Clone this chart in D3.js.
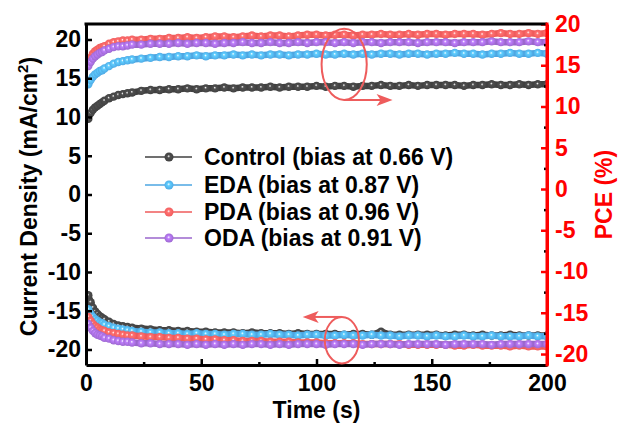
<!DOCTYPE html>
<html>
<head>
<meta charset="UTF-8">
<script src="https://d3js.org/d3.v7.min.js"></script>
<style>
  html, body { margin:0; padding:0; background:#fff; }
  svg text { font-family: "Liberation Sans", Arial, sans-serif; font-weight: bold; }
</style>
</head>
<body>
<div id="chart"></div>
<script>
// time axis (s)
const times = [1,2,3,4,5,6,7,8,10,12,14,16,18,20,
  24,28,32,36,40,44,48,52,56,60,64,68,72,76,80,84,88,92,96,100,104,108,112,116,120,
  124,128,132,136,140,144,148,152,156,160,164,168,172,176,180,184,188,192,196,200];

// PCE (%) - right axis
const pceControl = [8.5,9.2,9.6,9.9,10.1,10.3,10.5,10.7,11.0,11.2,11.4,11.5,11.6,11.7,
  11.9,12.0,12.0,12.1,12.1,12.2,12.1,12.2,12.2,12.3,12.2,12.3,12.3,12.3,12.4,12.3,12.4,12.4,12.4,12.5,
  12.4,12.5,12.5,12.4,12.5,12.5,12.6,12.5,12.5,12.6,12.5,12.6,12.6,12.6,12.6,12.5,12.6,12.6,12.7,12.6,
  12.6,12.7,12.6,12.7,12.7];
const pceEDA = [12.7,13.2,13.6,13.9,14.1,14.3,14.4,14.6,14.9,15.2,15.4,15.5,15.6,15.7,
  15.8,15.9,16.0,16.0,16.1,16.1,16.2,16.1,16.2,16.2,16.3,16.2,16.3,16.2,16.3,16.3,16.2,16.3,16.3,16.4,
  16.3,16.3,16.4,16.3,16.4,16.3,16.4,16.4,16.3,16.4,16.4,16.3,16.4,16.4,16.5,16.4,16.4,16.3,16.4,16.4,
  16.5,16.4,16.4,16.5,16.4];
const pcePDA = [15.3,15.9,16.4,16.7,16.9,17.1,17.2,17.3,17.6,17.8,17.9,18.0,18.0,18.1,
  18.1,18.2,18.2,18.3,18.3,18.4,18.3,18.4,18.5,18.5,18.4,18.5,18.6,18.5,18.6,18.6,18.5,18.6,18.7,18.7,
  18.6,18.7,18.7,18.6,18.7,18.7,18.8,18.7,18.7,18.8,18.7,18.8,18.8,18.7,18.8,18.8,18.8,18.7,18.8,18.9,
  18.8,18.8,18.9,18.8,18.9];
const pceODA = [14.9,15.4,15.8,16.1,16.3,16.5,16.6,16.8,17.0,17.2,17.3,17.3,17.4,17.5,
  17.5,17.6,17.6,17.6,17.7,17.6,17.7,17.7,17.6,17.7,17.7,17.8,17.7,17.7,17.8,17.7,17.7,17.8,17.7,17.8,
  17.8,17.7,17.8,17.7,17.8,17.8,17.7,17.8,17.8,17.8,17.7,17.8,17.8,17.8,17.7,17.8,17.8,17.8,17.9,17.8,
  17.8,17.8,17.9,17.8,17.8];

// Current density (mA/cm2) - left axis
const jControl = [-13.0,-13.9,-14.6,-15.1,-15.4,-15.7,-15.9,-16.1,-16.4,-16.7,-16.9,-17.0,-17.1,-17.2,
  -17.3,-17.4,-17.5,-17.5,-17.6,-17.6,-17.7,-17.7,-17.8,-17.8,-17.8,-17.9,-17.8,-17.9,-17.9,-17.9,-18.0,-17.9,-18.0,-18.0,
  -18.0,-18.0,-18.1,-18.0,-18.0,-18.1,-17.7,-18.1,-18.1,-18.1,-18.1,-18.1,-18.1,-18.2,-18.1,-18.1,-18.2,-18.1,-18.2,-18.2,
  -18.1,-18.2,-18.2,-18.2,-18.2];
const jEDA = [-14.8,-15.4,-15.8,-16.1,-16.3,-16.5,-16.6,-16.8,-17.0,-17.2,-17.3,-17.4,-17.5,-17.6,
  -17.7,-17.8,-17.8,-17.9,-17.9,-18.0,-17.9,-18.0,-18.0,-18.1,-18.0,-18.0,-18.1,-18.1,-18.0,-18.1,-18.1,-18.2,-18.1,-18.1,
  -18.2,-18.2,-18.1,-18.2,-18.2,-18.1,-18.2,-18.2,-18.3,-18.2,-18.2,-18.3,-18.2,-18.3,-18.3,-18.2,-18.3,-18.3,-18.2,-18.3,
  -18.3,-18.3,-18.2,-18.3,-18.3];
const jPDA = [-15.8,-16.3,-16.7,-17.0,-17.2,-17.4,-17.5,-17.6,-17.8,-17.9,-18.0,-18.1,-18.2,-18.2,
  -18.3,-18.4,-18.4,-18.5,-18.5,-18.6,-18.6,-18.7,-18.7,-18.8,-18.8,-18.9,-18.9,-18.9,-19.0,-19.0,-19.0,-19.1,-19.1,-19.1,
  -19.2,-19.2,-19.2,-19.2,-19.3,-19.3,-19.3,-19.3,-19.3,-19.4,-19.4,-19.4,-19.4,-19.4,-19.5,-19.5,-19.4,-19.5,-19.5,-19.5,
  -19.6,-19.5,-19.6,-19.6,-19.6];
const jODA = [-16.7,-17.2,-17.6,-17.9,-18.1,-18.2,-18.3,-18.5,-18.6,-18.8,-18.9,-19.0,-19.0,-19.1,
  -19.2,-19.2,-19.3,-19.3,-19.3,-19.4,-19.3,-19.4,-19.3,-19.4,-19.3,-19.4,-19.3,-19.3,-19.4,-19.3,-19.4,-19.3,-19.3,-19.3,
  -19.4,-19.3,-19.3,-19.3,-19.4,-19.3,-19.3,-19.3,-19.4,-19.3,-19.3,-19.3,-19.3,-19.4,-19.3,-19.3,-19.3,-19.3,-19.4,-19.3,
  -19.3,-19.3,-19.3,-19.3,-19.3];

const seriesNames = ["Control (bias at 0.66 V)", "EDA (bias at 0.87 V)", "PDA (bias at 0.96 V)", "ODA (bias at 0.91 V)"];
const seriesColors = ["#404040", "#4da6e2", "#ef5b5b", "#9a66cc"];
const pceSeries = [pceControl, pceEDA, pcePDA, pceODA];
const jSeries = [jControl, jEDA, jPDA, jODA];

const xTicks = [0, 50, 100, 150, 200];
const xMinor = [25, 75, 125, 175];
const yLeftTicks = [-20, -15, -10, -5, 0, 5, 10, 15, 20];
const yRightTicks = [-20, -15, -10, -5, 0, 5, 10, 15, 20];
const yRightMinor = [-17.5, -12.5, -7.5, -2.5, 2.5, 7.5, 12.5, 17.5];

const W = 619, H = 423;
const L = 86, R = 547, T = 24, B = 365;

const svg = d3.select("#chart").append("svg").attr("width", W).attr("height", H);

const x = d3.scaleLinear().domain([0, 200]).range([L, R]);
const yL = d3.scaleLinear().domain([-22, 22]).range([B, T]);
const yR = d3.scaleLinear().domain([-21.33, 20]).range([B, T]);

// ball gradients
const defs = svg.append("defs");
seriesColors.forEach((c, i) => {
  const g = defs.append("radialGradient").attr("id", "ball" + i)
    .attr("cx", "0.5").attr("cy", "0.5").attr("r", "0.55").attr("fx", "0.45").attr("fy", "0.4");
  g.append("stop").attr("offset", "0").attr("stop-color", "#ffffff");
  g.append("stop").attr("offset", "0.3").attr("stop-color", d3.color(c).brighter(0.6));
  g.append("stop").attr("offset", "1").attr("stop-color", c);
});

defs.append("clipPath").attr("id", "plotclip").append("rect")
  .attr("x", L).attr("y", T - 2).attr("width", R - L + 2).attr("height", B - T + 4);

const plot = svg.append("g").attr("clip-path", "url(#plotclip)");

function drawSeries(data, yScale, i) {
  const pts = times.map((t, k) => ({ t: t, v: data[k] }));
  const line = d3.line().x(d => x(d.t)).y(d => yScale(d.v));
  plot.append("path").datum(pts)
    .attr("d", line).attr("fill", "none")
    .attr("stroke", seriesColors[i]).attr("stroke-width", 6.5).attr("stroke-linejoin", "round");
  plot.append("g").selectAll("circle").data(pts).join("circle")
    .attr("cx", d => x(d.t)).attr("cy", d => yScale(d.v)).attr("r", 4.2)
    .attr("fill", "url(#ball" + i + ")");
}

[0, 1, 2, 3].forEach(i => drawSeries(pceSeries[i], yR, i));
[0, 1, 2, 3].forEach(i => drawSeries(jSeries[i], yL, i));

// axes
const fs = 23;
const fmt = d => String(d);
const xAxis = svg.append("g").attr("transform", `translate(0,${B})`)
  .call(d3.axisBottom(x).tickValues(xTicks).tickFormat(fmt).tickSize(-6).tickSizeOuter(0).tickPadding(10));
svg.append("g").attr("transform", `translate(0,${B})`)
  .call(d3.axisBottom(x).tickValues(xMinor).tickSize(-3).tickFormat("")).select(".domain").remove();

const yAxisL = svg.append("g").attr("transform", `translate(${L},0)`)
  .call(d3.axisLeft(yL).tickValues(yLeftTicks).tickFormat(fmt).tickSize(-6).tickSizeOuter(0).tickPadding(5));

const yAxisR = svg.append("g").attr("transform", `translate(${R},0)`)
  .call(d3.axisRight(yR).tickValues(yRightTicks).tickFormat(fmt).tickSize(-6).tickSizeOuter(0).tickPadding(8));
svg.append("g").attr("transform", `translate(${R},0)`)
  .call(d3.axisRight(yR).tickValues(yRightMinor).tickSize(-3).tickFormat("")).select(".domain").remove();

svg.selectAll(".tick line").attr("stroke-width", 2.5);
[xAxis, yAxisL].forEach(a => {
  a.select(".domain").attr("stroke", "#000").attr("stroke-width", 3);
  a.selectAll("text").attr("font-size", fs).attr("fill", "#000");
});
yAxisR.select(".domain").attr("stroke", "#ff0000").attr("stroke-width", 3);
yAxisR.selectAll(".tick line").attr("stroke", "#ff0000");
yAxisR.selectAll("text").attr("font-size", fs).attr("fill", "#ff0000");
svg.selectAll("g").filter(function () { return this.parentNode === svg.node(); })
  .attr("font-family", null);

// top frame
svg.append("line").attr("x1", L - 1.5).attr("x2", R).attr("y1", T).attr("y2", T)
  .attr("stroke", "#000").attr("stroke-width", 3);
// re-draw right spine on top
svg.append("line").attr("x1", R).attr("x2", R).attr("y1", T - 1.5).attr("y2", B + 1.5)
  .attr("stroke", "#ff0000").attr("stroke-width", 3);

// axis titles
svg.append("text").attr("x", (L + R) / 2).attr("y", 418).attr("text-anchor", "middle")
  .attr("font-size", 23).text("Time (s)");

const lt = svg.append("text").attr("transform", `translate(37,${(T + B) / 2 + 2}) rotate(-90)`)
  .attr("text-anchor", "middle").attr("font-size", 23);
lt.append("tspan").text("Current Density (mA/cm");
lt.append("tspan").attr("font-size", 15).attr("dy", -9).text("2");
lt.append("tspan").attr("dy", 9).text(")");

svg.append("text").attr("transform", `translate(612,${(T + B) / 2}) rotate(-90)`)
  .attr("text-anchor", "middle").attr("font-size", 23).attr("fill", "#ff0000").text("PCE (%)");

// legend
const legRows = [157, 185, 212, 238];
seriesNames.forEach((name, i) => {
  const g = svg.append("g").attr("transform", `translate(0,${legRows[i]})`);
  g.append("line").attr("x1", 145).attr("x2", 192).attr("y1", 0).attr("y2", 0)
    .attr("stroke", seriesColors[i]).attr("stroke-width", 1.5);
  g.append("circle").attr("cx", 169).attr("cy", 0).attr("r", 4.5).attr("fill", "url(#ball" + i + ")");
  g.append("text").attr("x", 204).attr("y", 8).attr("font-size", 23).attr("fill", "#000").text(name);
});

// annotations: ellipses + arrows
const annoColor = "#ee5c5c";
const annoTop = { t: 112, v: 16.8, rt: 9.8, rv: 4.6, tipT: 133, tipV: 12.3 };
const annoBot = { t: 111, v: -18.8, rt: 7.4, rv: 3.0, tipT: 94, tipV: -16.0 };

function drawAnno(a, dir) {
  const cx = x(a.t), cy = yL(a.v);
  const rx = x(a.t + a.rt) - cx, ry = yL(a.v - a.rv) - cy;
  svg.append("ellipse").attr("cx", cx).attr("cy", cy).attr("rx", rx).attr("ry", ry)
    .attr("fill", "none").attr("stroke", annoColor).attr("stroke-width", 2);
  const sy = dir > 0 ? cy + ry : cy - ry;
  const tx = x(a.tipT);
  svg.append("line").attr("x1", cx).attr("x2", tx - dir * 10).attr("y1", sy).attr("y2", sy)
    .attr("stroke", annoColor).attr("stroke-width", 2);
  svg.append("path")
    .attr("d", `M${tx},${sy} L${tx - dir * 16},${sy - 6} L${tx - dir * 12},${sy} L${tx - dir * 16},${sy + 6} Z`)
    .attr("fill", annoColor);
}
drawAnno(annoTop, 1);
drawAnno(annoBot, -1);
</script>
</body>
</html>
